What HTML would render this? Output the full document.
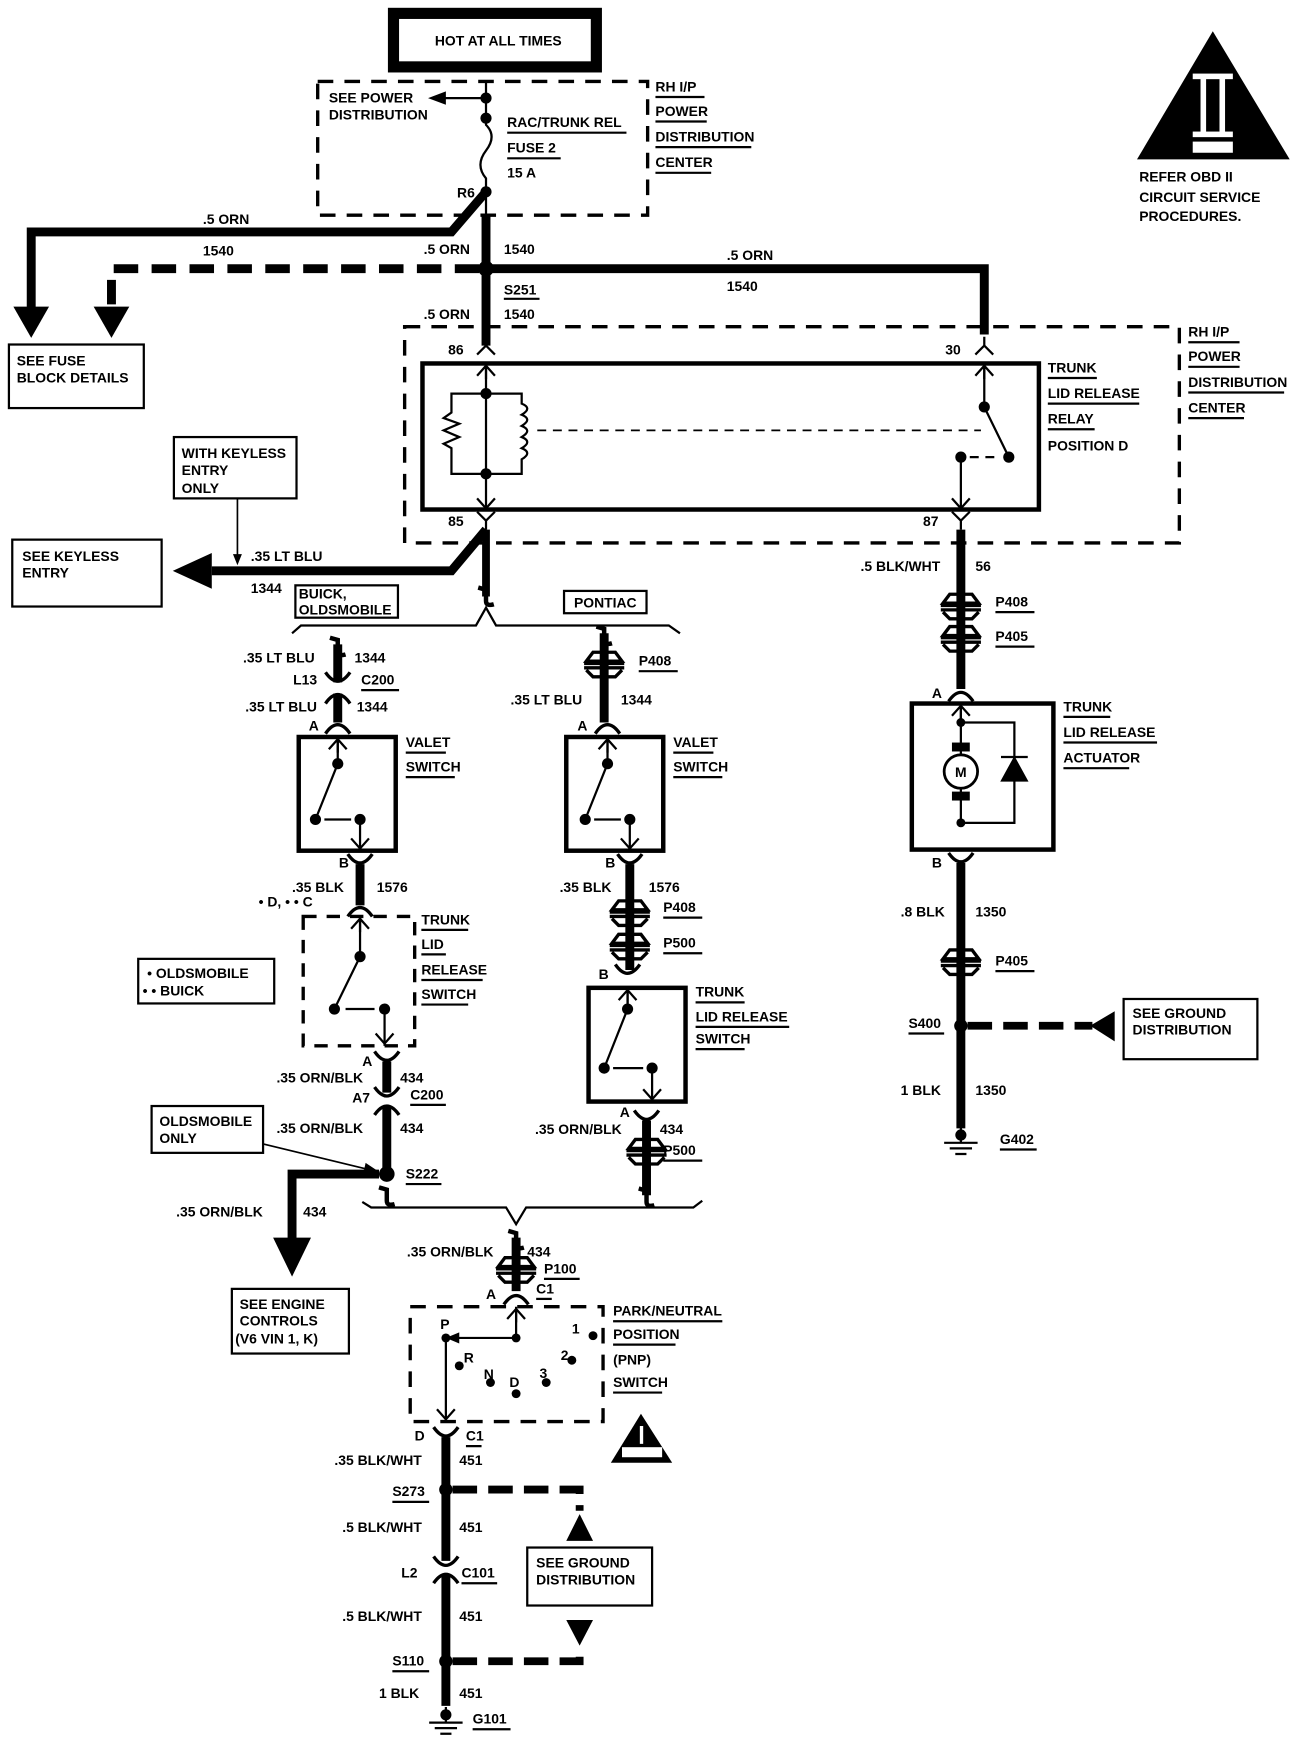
<!DOCTYPE html>
<html><head><meta charset="utf-8"><style>
html,body{margin:0;padding:0;background:#fff}
svg{display:block}
text{font-family:"Liberation Sans",sans-serif;font-weight:bold;font-size:12.5px;fill:#000}
.u{text-decoration:underline}
</style></head><body>
<svg width="1312" height="1746" viewBox="0 0 1177 1566" preserveAspectRatio="none" xmlns="http://www.w3.org/2000/svg">
<defs>
<g id="pill"><path d="M-16,-2 L-10,-10 L10,-10 L16,-2 Z M-18,0 L18,0 M-18,4 L18,4 M-16,6 L-10,12 L10,12 L16,6" fill="none" stroke="#000" stroke-width="3"/></g>
<g id="cupdn"><path d="M-11,7 Q0,-9 11,7" fill="none" stroke="#000" stroke-width="3"/></g>
<g id="cupup"><path d="M-11,-7 Q0,9 11,-7" fill="none" stroke="#000" stroke-width="3"/></g>
<g id="brk"><path d="M-7,-8 L0,-6 L0,4 Q0,9 7,7" fill="none" stroke="#000" stroke-width="4"/></g>
<g id="arrU"><path d="M-8,9 L0,0 L8,9 M0,0 L0,12" fill="none" stroke="#000" stroke-width="2"/></g>
<g id="arrD"><path d="M-8,-9 L0,0 L8,-9" fill="none" stroke="#000" stroke-width="2"/></g>
<g id="Y"><path d="M-8,-8 L0,0 L8,-8 M0,0 L0,8" fill="none" stroke="#000" stroke-width="2"/></g>
<g id="Yu"><path d="M-8,8 L0,0 L8,8 M0,0 L0,-8" fill="none" stroke="#000" stroke-width="2"/></g>
<g id="gnd"><path d="M0,-14 L0,0 M-15,0 L15,0 M-10,5 L10,5 M-5,10 L5,10" fill="none" stroke="#000" stroke-width="2"/></g>
</defs>

<!-- HOT AT ALL TIMES -->
<rect x="353" y="12" width="182" height="48" fill="none" stroke="#000" stroke-width="10"/>
<text x="447" y="41" text-anchor="middle">HOT AT ALL TIMES</text>

<!-- fuse box -->
<rect x="285" y="73" width="296" height="120" fill="none" stroke="#000" stroke-width="3" stroke-dasharray="14,10"/>
<path d="M436,73 L436,112 Q446,122 436,135 Q426,148 436,160 L436,193" fill="none" stroke="#000" stroke-width="2"/>
<circle cx="436" cy="88" r="5"/><circle cx="436" cy="106" r="5"/><circle cx="436" cy="172" r="5"/>
<path d="M436,88 L398,88" stroke="#000" stroke-width="2"/><path d="M384,88 L400,82 L400,94 Z"/>
<text x="295" y="92">SEE POWER</text><text x="295" y="107">DISTRIBUTION</text>
<text x="455" y="114">RAC/TRUNK REL</text><path d="M455,119 L562,119" stroke="#000" stroke-width="2"/>
<text x="455" y="137">FUSE 2</text><path d="M455,142 L503,142" stroke="#000" stroke-width="2"/>
<text x="455" y="159">15 A</text>
<text x="410" y="177">R6</text>
<text x="588" y="82">RH I/P</text><path d="M588,87 L632,87" stroke="#000" stroke-width="2"/>
<text x="588" y="104">POWER</text><path d="M588,109 L634,109" stroke="#000" stroke-width="2"/>
<text x="588" y="127">DISTRIBUTION</text><path d="M588,132 L674,132" stroke="#000" stroke-width="2"/>
<text x="588" y="150">CENTER</text><path d="M588,155 L638,155" stroke="#000" stroke-width="2"/>

<!-- triangle OBD -->
<path d="M1020,143 L1088,28 L1157,143 Z"/>
<rect x="1077" y="70" width="5" height="50" fill="#fff"/><rect x="1094" y="70" width="5" height="50" fill="#fff"/>
<rect x="1070" y="66" width="36" height="5" fill="#fff"/><rect x="1070" y="118" width="36" height="5" fill="#fff"/>
<rect x="1070" y="127" width="36" height="10" fill="#fff"/>
<text x="1022" y="163">REFER OBD II</text><text x="1022" y="181">CIRCUIT SERVICE</text><text x="1022" y="198">PROCEDURES.</text>

<!-- top wiring -->
<path d="M436,172 L405,208 L28,208 L28,280" fill="none" stroke="#000" stroke-width="8"/>
<path d="M12,275 L44,275 L28,303 Z"/>
<text x="182" y="201">.5 ORN</text><text x="182" y="229">1540</text>
<path d="M436,193 L436,310" stroke="#000" stroke-width="8"/>
<circle cx="436" cy="241" r="7"/>
<path d="M430,241 L100,241 L100,280" fill="none" stroke="#000" stroke-width="8" stroke-dasharray="22,12"/>
<path d="M84,275 L116,275 L100,303 Z"/>
<path d="M436,241 L883,241 L883,300" fill="none" stroke="#000" stroke-width="8"/>
<text x="380" y="228">.5 ORN</text><text x="452" y="228">1540</text>
<text x="652" y="233">.5 ORN</text><text x="652" y="261">1540</text>
<text x="452" y="264">S251</text><path d="M452,268 L484,268" stroke="#000" stroke-width="2"/>
<text x="380" y="286">.5 ORN</text><text x="452" y="286">1540</text>

<rect x="8" y="309" width="121" height="57" fill="none" stroke="#000" stroke-width="2"/>
<text x="15" y="328">SEE FUSE</text><text x="15" y="343">BLOCK DETAILS</text>

<!-- relay -->
<rect x="363" y="293" width="695" height="194" fill="none" stroke="#000" stroke-width="3" stroke-dasharray="14,10"/>
<rect x="379" y="326" width="553" height="131" fill="none" stroke="#000" stroke-width="4"/>
<use href="#Yu" x="436" y="310"/><text x="402" y="318">86</text>
<use href="#Yu" x="883" y="310"/><text x="848" y="318">30</text>
<use href="#Y" x="436" y="467"/><text x="402" y="472">85</text>
<use href="#Y" x="862" y="467"/><text x="828" y="472">87</text>
<path d="M436,326 L436,425" stroke="#000" stroke-width="2"/><use href="#arrU" x="436" y="328"/>
<circle cx="436" cy="353" r="5"/><circle cx="436" cy="425" r="5"/>
<path d="M436,353 L405,353 L405,370 L398,375 L412,380 L398,386 L412,392 L398,398 L405,402 L405,425 L436,425 M436,353 L468,353 L468,362 q10,4 0,10 q10,4 0,10 q10,4 0,10 q10,4 0,10 q10,4 0,10 L468,425 L436,425 M436,425 L436,457" fill="none" stroke="#000" stroke-width="2"/>
<use href="#arrD" x="436" y="456"/>
<path d="M482,386 L880,386" stroke="#000" stroke-width="1.5" stroke-dasharray="8,6"/>
<path d="M883,326 L883,365 L905,410" fill="none" stroke="#000" stroke-width="2"/><use href="#arrU" x="883" y="328"/>
<circle cx="883" cy="365" r="5"/><circle cx="905" cy="410" r="5"/><circle cx="862" cy="410" r="5"/>
<path d="M870,410 L897,410" stroke="#000" stroke-width="2" stroke-dasharray="8,6"/>
<path d="M862,410 L862,457" stroke="#000" stroke-width="2"/><use href="#arrD" x="862" y="456"/>
<text x="940" y="334">TRUNK</text><path d="M940,339 L984,339" stroke="#000" stroke-width="2"/>
<text x="940" y="357">LID RELEASE</text><path d="M940,362 L1022,362" stroke="#000" stroke-width="2"/>
<text x="940" y="380">RELAY</text><path d="M940,385 L982,385" stroke="#000" stroke-width="2"/>
<text x="940" y="404">POSITION D</text>
<text x="1066" y="302">RH I/P</text><path d="M1066,307 L1112,307" stroke="#000" stroke-width="2"/>
<text x="1066" y="324">POWER</text><path d="M1066,329 L1112,329" stroke="#000" stroke-width="2"/>
<text x="1066" y="347">DISTRIBUTION</text><path d="M1066,352 L1152,352" stroke="#000" stroke-width="2"/>
<text x="1066" y="370">CENTER</text><path d="M1066,375 L1116,375" stroke="#000" stroke-width="2"/>

<!-- keyless -->
<rect x="156" y="392" width="110" height="55" fill="none" stroke="#000" stroke-width="2"/>
<text x="163" y="411">WITH KEYLESS</text><text x="163" y="426">ENTRY</text><text x="163" y="442">ONLY</text>
<path d="M213,447 L213,505" stroke="#000" stroke-width="1.5"/><path d="M209,497 L217,497 L213,507 Z"/>
<path d="M436,475 L405,512 L190,512" fill="none" stroke="#000" stroke-width="8"/>
<path d="M155,512 L190,496 L190,528 Z"/>
<rect x="11" y="484" width="134" height="60" fill="none" stroke="#000" stroke-width="2"/>
<text x="20" y="503">SEE KEYLESS</text><text x="20" y="518">ENTRY</text>
<text x="225" y="503">.35 LT BLU</text><text x="225" y="532">1344</text>
<path d="M436,475 L436,535" stroke="#000" stroke-width="7"/><use href="#brk" x="436" y="535"/>

<rect x="265" y="525" width="92" height="29" fill="none" stroke="#000" stroke-width="2"/>
<text x="268" y="537">BUICK,</text><text x="268" y="551">OLDSMOBILE</text>
<rect x="506" y="530" width="74" height="20" fill="none" stroke="#000" stroke-width="2"/>
<text x="543" y="545" text-anchor="middle">PONTIAC</text>
<path d="M262,568 L270,561 L427,561 L436,545 L445,561 L600,561 L610,568" fill="none" stroke="#000" stroke-width="2"/>

<!-- left branch (buick/olds) -->
<use href="#brk" x="303" y="580"/>
<path d="M303,578 L303,612 M303,622 L303,648" stroke="#000" stroke-width="8"/>
<use href="#cupup" x="303" y="610"/><use href="#cupdn" x="303" y="624"/>
<text x="218" y="594">.35 LT BLU</text><text x="318" y="594">1344</text>
<text x="263" y="614">L13</text><text x="324" y="614">C200</text><path d="M324,619 L358,619" stroke="#000" stroke-width="2"/>
<text x="220" y="638">.35 LT BLU</text><text x="320" y="638">1344</text>
<use href="#cupdn" x="303" y="651"/><text x="277" y="655">A</text>
<rect x="268" y="661" width="87" height="102" fill="none" stroke="#000" stroke-width="4"/>
<path d="M303,661 L303,685 L283,735 M323,735 L323,763" fill="none" stroke="#000" stroke-width="2"/>
<use href="#arrU" x="303" y="663"/><use href="#arrD" x="323" y="761"/>
<circle cx="303" cy="685" r="5"/><circle cx="283" cy="735" r="5"/><circle cx="323" cy="735" r="5"/>
<path d="M291,735 L315,735" stroke="#000" stroke-width="2"/>
<text x="364" y="670">VALET</text><path d="M364,675 L400,675" stroke="#000" stroke-width="2"/>
<text x="364" y="692">SWITCH</text><path d="M364,697 L408,697" stroke="#000" stroke-width="2"/>
<use href="#cupup" x="323" y="773"/><text x="313" y="778" text-anchor="end">B</text>
<path d="M323,775 L323,812" stroke="#000" stroke-width="8"/>
<text x="262" y="800">.35 BLK</text><text x="338" y="800">1576</text>
<text x="232" y="813">• D, • • C</text>
<use href="#cupdn" x="323" y="815"/>
<rect x="272" y="822" width="100" height="116" fill="none" stroke="#000" stroke-width="3" stroke-dasharray="12,9"/>
<path d="M323,822 L323,858 L300,905 M345,905 L345,938" fill="none" stroke="#000" stroke-width="2"/>
<use href="#arrU" x="323" y="824"/><use href="#arrD" x="345" y="936"/>
<circle cx="323" cy="858" r="5"/><circle cx="300" cy="905" r="5"/><circle cx="345" cy="905" r="5"/>
<path d="M310,905 L336,905" stroke="#000" stroke-width="2"/>
<text x="378" y="829">TRUNK</text><path d="M378,834 L420,834" stroke="#000" stroke-width="2"/>
<text x="378" y="851">LID</text><path d="M378,856 L400,856" stroke="#000" stroke-width="2"/>
<text x="378" y="874">RELEASE</text><path d="M378,879 L433,879" stroke="#000" stroke-width="2"/>
<text x="378" y="896">SWITCH</text><path d="M378,901 L420,901" stroke="#000" stroke-width="2"/>
<rect x="124" y="860" width="122" height="40" fill="none" stroke="#000" stroke-width="2"/>
<text x="132" y="877">• OLDSMOBILE</text><text x="128" y="893">• • BUICK</text>
<use href="#cupup" x="347" y="950"/><text x="325" y="956">A</text>
<path d="M347,952 L347,980 M347,993 L347,1048" stroke="#000" stroke-width="8"/>
<use href="#cupup" x="347" y="982"/><use href="#cupdn" x="347" y="993"/>
<text x="248" y="971">.35 ORN/BLK</text><text x="359" y="971">434</text>
<text x="316" y="989">A7</text><text x="368" y="986">C200</text><path d="M368,991 L400,991" stroke="#000" stroke-width="2"/>
<text x="248" y="1016">.35 ORN/BLK</text><text x="359" y="1016">434</text>
<rect x="136" y="992" width="100" height="42" fill="none" stroke="#000" stroke-width="2"/>
<text x="143" y="1010">OLDSMOBILE</text><text x="143" y="1025">ONLY</text>
<path d="M236,1026 L335,1050" stroke="#000" stroke-width="1.5"/><path d="M340,1051 L328,1043 L326,1052 Z"/>
<circle cx="347" cy="1053" r="7"/>
<text x="364" y="1057">S222</text><path d="M364,1062 L396,1062" stroke="#000" stroke-width="2"/>
<path d="M340,1053 L262,1053 L262,1115" fill="none" stroke="#000" stroke-width="8"/>
<path d="M245,1110 L279,1110 L262,1145 Z"/>
<text x="158" y="1091">.35 ORN/BLK</text><text x="272" y="1091">434</text>
<rect x="208" y="1156" width="105" height="58" fill="none" stroke="#000" stroke-width="2"/>
<text x="215" y="1174">SEE ENGINE</text><text x="215" y="1189">CONTROLS</text><text x="211" y="1205">(V6 VIN 1, K)</text>
<use href="#brk" x="347" y="1073"/>

<!-- pontiac branch -->
<use href="#brk" x="542" y="570"/>
<path d="M542,568 L542,648" stroke="#000" stroke-width="8"/>
<use href="#pill" x="542" y="595"/>
<text x="573" y="597">P408</text><path d="M573,602 L608,602" stroke="#000" stroke-width="2"/>
<text x="458" y="632">.35 LT BLU</text><text x="557" y="632">1344</text>
<use href="#cupdn" x="545" y="651"/><text x="518" y="655">A</text>
<rect x="508" y="661" width="87" height="102" fill="none" stroke="#000" stroke-width="4"/>
<path d="M545,661 L545,685 L525,735 M565,735 L565,763" fill="none" stroke="#000" stroke-width="2"/>
<use href="#arrU" x="545" y="663"/><use href="#arrD" x="565" y="761"/>
<circle cx="545" cy="685" r="5"/><circle cx="525" cy="735" r="5"/><circle cx="565" cy="735" r="5"/>
<path d="M533,735 L557,735" stroke="#000" stroke-width="2"/>
<text x="604" y="670">VALET</text><path d="M604,675 L640,675" stroke="#000" stroke-width="2"/>
<text x="604" y="692">SWITCH</text><path d="M604,697 L648,697" stroke="#000" stroke-width="2"/>
<use href="#cupup" x="565" y="773"/><text x="543" y="778">B</text>
<path d="M565,775 L565,870" stroke="#000" stroke-width="8"/>
<text x="502" y="800">.35 BLK</text><text x="582" y="800">1576</text>
<use href="#pill" x="565" y="818"/><text x="595" y="818">P408</text><path d="M595,823 L630,823" stroke="#000" stroke-width="2"/>
<use href="#pill" x="565" y="848"/><text x="595" y="850">P500</text><path d="M595,855 L630,855" stroke="#000" stroke-width="2"/>
<use href="#cupup" x="563" y="872"/><text x="537" y="878">B</text>
<rect x="528" y="886" width="87" height="102" fill="none" stroke="#000" stroke-width="4"/>
<path d="M563,886 L563,905 L542,958 M585,958 L585,988" fill="none" stroke="#000" stroke-width="2"/>
<use href="#arrU" x="563" y="888"/><use href="#arrD" x="585" y="986"/>
<circle cx="563" cy="905" r="5"/><circle cx="542" cy="958" r="5"/><circle cx="585" cy="958" r="5"/>
<path d="M550,958 L577,958" stroke="#000" stroke-width="2"/>
<text x="624" y="894">TRUNK</text><path d="M624,899 L668,899" stroke="#000" stroke-width="2"/>
<text x="624" y="916">LID RELEASE</text><path d="M624,921 L708,921" stroke="#000" stroke-width="2"/>
<text x="624" y="936">SWITCH</text><path d="M624,941 L668,941" stroke="#000" stroke-width="2"/>
<use href="#cupup" x="580" y="1003"/><text x="556" y="1002">A</text>
<path d="M580,1005 L580,1072" stroke="#000" stroke-width="8"/>
<use href="#pill" x="580" y="1032"/>
<text x="480" y="1017">.35 ORN/BLK</text><text x="592" y="1017">434</text>
<text x="595" y="1036">P500</text><path d="M595,1041 L630,1041" stroke="#000" stroke-width="2"/>
<use href="#brk" x="580" y="1074"/>
<path d="M325,1078 L333,1083 L454,1083 L463,1098 L472,1083 L622,1083 L630,1077" fill="none" stroke="#000" stroke-width="2"/>

<!-- PNP -->
<use href="#brk" x="463" y="1112"/>
<path d="M463,1110 L463,1158" stroke="#000" stroke-width="8"/>
<use href="#pill" x="463" y="1138"/>
<text x="365" y="1127">.35 ORN/BLK</text><text x="473" y="1127">434</text>
<text x="488" y="1142">P100</text><path d="M488,1147 L520,1147" stroke="#000" stroke-width="2"/>
<use href="#cupdn" x="463" y="1163"/><text x="436" y="1165">A</text>
<text x="481" y="1160">C1</text><path d="M481,1165 L495,1165" stroke="#000" stroke-width="2"/>
<rect x="368" y="1172" width="173" height="103" fill="none" stroke="#000" stroke-width="3" stroke-dasharray="14,10"/>
<path d="M463,1172 L463,1200 L405,1200 M400,1200 L400,1275" fill="none" stroke="#000" stroke-width="2"/>
<use href="#arrU" x="463" y="1174"/><use href="#arrD" x="400" y="1273"/>
<path d="M400,1200 L412,1195 L412,1205 Z"/>
<circle cx="463" cy="1200" r="4"/><circle cx="400" cy="1200" r="4"/>
<circle cx="412" cy="1225" r="4"/><circle cx="440" cy="1240" r="4"/><circle cx="463" cy="1250" r="4"/>
<circle cx="490" cy="1240" r="4"/><circle cx="513" cy="1220" r="4"/><circle cx="532" cy="1198" r="4"/>
<text x="395" y="1192">P</text><text x="416" y="1222">R</text><text x="434" y="1237">N</text><text x="457" y="1244">D</text>
<text x="484" y="1236">3</text><text x="503" y="1220">2</text><text x="513" y="1196">1</text>
<text x="550" y="1180">PARK/NEUTRAL</text><path d="M550,1185 L648,1185" stroke="#000" stroke-width="2"/>
<text x="550" y="1201">POSITION</text><path d="M550,1206 L606,1206" stroke="#000" stroke-width="2"/>
<text x="550" y="1224">(PNP)</text>
<text x="550" y="1244">SWITCH</text><path d="M550,1249 L594,1249" stroke="#000" stroke-width="2"/>
<path d="M548,1312 L575,1268 L603,1312 Z"/>
<rect x="574" y="1279" width="3" height="16" fill="#fff"/><rect x="558" y="1298" width="36" height="9" fill="#fff"/>
<use href="#cupup" x="400" y="1287"/><text x="372" y="1292">D</text>
<text x="418" y="1292">C1</text><path d="M418,1297 L432,1297" stroke="#000" stroke-width="2"/>
<path d="M400,1289 L400,1400 M400,1412 L400,1530" stroke="#000" stroke-width="8"/>
<text x="300" y="1314">.35 BLK/WHT</text><text x="412" y="1314">451</text>
<circle cx="400" cy="1336" r="6"/>
<text x="352" y="1342">S273</text><path d="M352,1347 L385,1347" stroke="#000" stroke-width="2"/>
<path d="M406,1336 L520,1336 L520,1355" fill="none" stroke="#000" stroke-width="7" stroke-dasharray="22,10"/>
<path d="M508,1382 L520,1358 L532,1382 Z"/>
<text x="307" y="1374">.5 BLK/WHT</text><text x="412" y="1374">451</text>
<use href="#cupup" x="400" y="1403"/><use href="#cupdn" x="400" y="1413"/>
<text x="360" y="1415">L2</text><text x="414" y="1415">C101</text><path d="M414,1420 L446,1420" stroke="#000" stroke-width="2"/>
<rect x="473" y="1388" width="112" height="52" fill="none" stroke="#000" stroke-width="2"/>
<text x="481" y="1406">SEE GROUND</text><text x="481" y="1421">DISTRIBUTION</text>
<path d="M508,1453 L532,1453 L520,1476 Z"/>
<text x="307" y="1454">.5 BLK/WHT</text><text x="412" y="1454">451</text>
<circle cx="400" cy="1490" r="6"/>
<path d="M406,1490 L520,1490 L520,1476" fill="none" stroke="#000" stroke-width="7" stroke-dasharray="22,10"/>
<text x="352" y="1494">S110</text><path d="M352,1499 L385,1499" stroke="#000" stroke-width="2"/>
<text x="340" y="1523">1 BLK</text><text x="412" y="1523">451</text>
<use href="#gnd" x="400" y="1545"/><circle cx="400" cy="1538" r="5"/>
<text x="424" y="1546">G101</text><path d="M424,1551 L458,1551" stroke="#000" stroke-width="2"/>

<!-- right actuator chain -->
<path d="M862,475 L862,618" stroke="#000" stroke-width="8"/>
<text x="772" y="512">.5 BLK/WHT</text><text x="875" y="512">56</text>
<use href="#pill" x="862" y="543"/><text x="893" y="544">P408</text><path d="M893,549 L928,549" stroke="#000" stroke-width="2"/>
<use href="#pill" x="862" y="572"/><text x="893" y="575">P405</text><path d="M893,580 L928,580" stroke="#000" stroke-width="2"/>
<use href="#cupdn" x="862" y="622"/><text x="836" y="626">A</text>
<rect x="818" y="631" width="127" height="131" fill="none" stroke="#000" stroke-width="4"/>
<path d="M862,631 L862,738 M862,648 L910,648 L910,738 L862,738" fill="none" stroke="#000" stroke-width="2"/>
<use href="#arrU" x="862" y="633"/>
<circle cx="862" cy="648" r="4"/><circle cx="862" cy="738" r="4"/>
<rect x="854" y="666" width="16" height="8"/><rect x="854" y="710" width="16" height="8"/>
<circle cx="862" cy="692" r="15" fill="#fff" stroke="#000" stroke-width="2.5"/>
<text x="862" y="697" text-anchor="middle" font-size="11">M</text>
<path d="M899,700 L921,700 L910,680 Z M898,679 L922,679" stroke="#000" stroke-width="2"/>
<text x="954" y="638">TRUNK</text><path d="M954,643 L996,643" stroke="#000" stroke-width="2"/>
<text x="954" y="661">LID RELEASE</text><path d="M954,666 L1038,666" stroke="#000" stroke-width="2"/>
<text x="954" y="684">ACTUATOR</text><path d="M954,689 L1013,689" stroke="#000" stroke-width="2"/>
<use href="#cupup" x="862" y="772"/><text x="836" y="778">B</text>
<path d="M862,774 L862,1012" stroke="#000" stroke-width="8"/>
<text x="808" y="822">.8 BLK</text><text x="875" y="822">1350</text>
<use href="#pill" x="862" y="862"/><text x="893" y="866">P405</text><path d="M893,871 L928,871" stroke="#000" stroke-width="2"/>
<circle cx="862" cy="920" r="6"/>
<text x="815" y="922">S400</text><path d="M815,927 L847,927" stroke="#000" stroke-width="2"/>
<path d="M868,920 L980,920" stroke="#000" stroke-width="7" stroke-dasharray="22,10"/>
<path d="M978,920 L1000,907 L1000,934 Z"/>
<rect x="1008" y="896" width="120" height="54" fill="none" stroke="#000" stroke-width="2"/>
<text x="1016" y="913">SEE GROUND</text><text x="1016" y="928">DISTRIBUTION</text>
<text x="808" y="982">1 BLK</text><text x="875" y="982">1350</text>
<use href="#gnd" x="862" y="1025"/><circle cx="862" cy="1018" r="5"/>
<text x="897" y="1026">G402</text><path d="M897,1031 L930,1031" stroke="#000" stroke-width="2"/>
</svg>
</body></html>
